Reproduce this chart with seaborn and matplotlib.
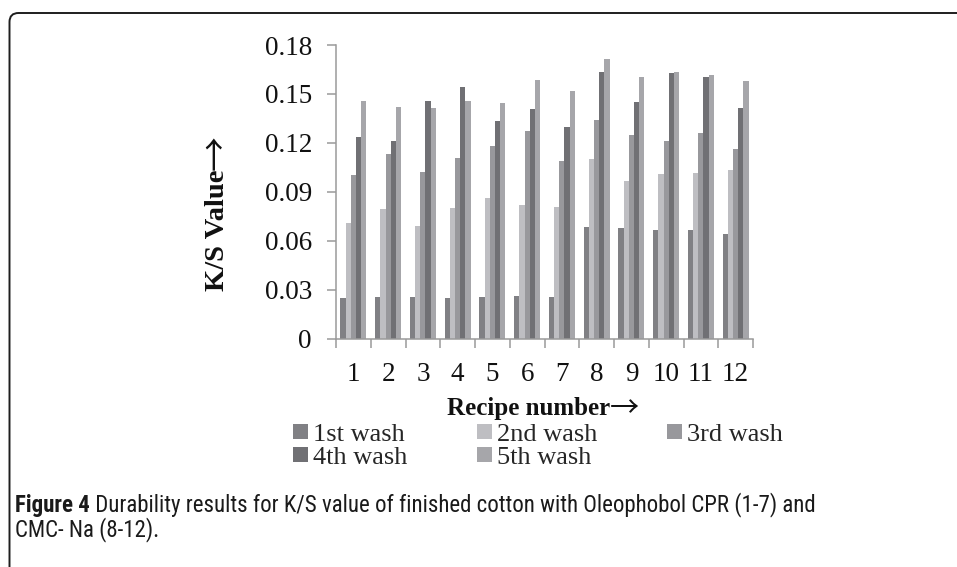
import numpy as np
import pandas as pd
import matplotlib
matplotlib.use("Agg")
import matplotlib.pyplot as plt
import seaborn as sns
from matplotlib.patches import FancyBboxPatch
from matplotlib.transforms import IdentityTransform

# ---- data ----
recipes = [str(i) for i in range(1, 13)]
washes = ["1st wash", "2nd wash", "3rd wash", "4th wash", "5th wash"]
wash1 = [0.0247, 0.0257, 0.0257, 0.0247, 0.0257, 0.0263, 0.0255, 0.0685, 0.0677, 0.0664, 0.0666, 0.0638]
wash2 = [0.0711, 0.0794, 0.0693, 0.0800, 0.0861, 0.0818, 0.0804, 0.1098, 0.0966, 0.1008, 0.1017, 0.1033]
wash3 = [0.1000, 0.1129, 0.1021, 0.1110, 0.1180, 0.1270, 0.1090, 0.1340, 0.1248, 0.1211, 0.1262, 0.1160]
wash4 = [0.1233, 0.1211, 0.1457, 0.1540, 0.1334, 0.1408, 0.1297, 0.1637, 0.1453, 0.1631, 0.1606, 0.1414]
wash5 = [0.1455, 0.1422, 0.1412, 0.1457, 0.1442, 0.1584, 0.1518, 0.1717, 0.1606, 0.1635, 0.1618, 0.1580]
yticks = [0, 0.03, 0.06, 0.09, 0.12, 0.15, 0.18]
ytick_labels = ["0", "0.03", "0.06", "0.09", "0.12", "0.15", "0.18"]
colors = ["#808084", "#bebec2", "#98989c", "#707074", "#a6a6aa"]

df = pd.DataFrame({
    "recipe": recipes * 5,
    "wash": np.repeat(washes, len(recipes)),
    "value": wash1 + wash2 + wash3 + wash4 + wash5,
})

sns.set_theme(style="white")
plt.rcParams["font.family"] = ["Liberation Serif", "DejaVu Serif"]

W, H = 957, 567
fig = plt.figure(figsize=(W / 100, H / 100), dpi=100)
x0, x1, ytop, ybot = 336, 753, 45, 338.5
ax = fig.add_axes([x0 / W, 1 - ybot / H, (x1 - x0) / W, (ybot - ytop) / H])

sns.barplot(data=df, x="recipe", y="value", hue="wash", order=recipes,
            hue_order=washes, palette=colors, width=0.75, saturation=1,
            linewidth=0, errorbar=None, ax=ax)

gray = "#9a9a9a"
ink = "#111111"
ax.set_ylim(0, 0.18)
ax.set_xlim(-0.5, 11.5)
ax.set_yticks(yticks)
ax.set_yticklabels(ytick_labels)
ax.set_xticks(range(len(recipes)))
ax.set_xticklabels(recipes)
ax.set_xticks(np.arange(-0.5, len(recipes), 1), minor=True)
ax.tick_params(axis="y", left=True, length=6.3, width=1.1, color=gray,
               pad=11, labelsize=19.5, labelcolor=ink)
ax.tick_params(axis="x", which="major", bottom=True, length=0, pad=17,
               labelsize=19.5, labelcolor=ink)
ax.tick_params(axis="x", which="minor", bottom=True, length=6.3, width=1.1, color=gray)
for s in ["top", "right"]:
    ax.spines[s].set_visible(False)
for s in ["left", "bottom"]:
    ax.spines[s].set_color(gray)
    ax.spines[s].set_linewidth(1.1)
ax.set_xlabel("")
ax.set_ylabel("")
ax.grid(False)

handles, labels = ax.get_legend_handles_labels()
if ax.get_legend() is not None:
    ax.get_legend().remove()
order = [0, 3, 1, 4, 2]
fig.legend([handles[i] for i in order], [labels[i] for i in order],
           loc="upper left", bbox_to_anchor=(293 / W, 1 - 424 / H),
           ncol=3, frameon=False, fontsize=19, borderpad=0, borderaxespad=0,
           handlelength=0.55, handleheight=0.5, handletextpad=0.2,
           columnspacing=2.65, labelspacing=0.02)

arrow_font = ["Noto Sans CJK SC", "DejaVu Sans"]
# y label
ty = fig.text(217 / W, 1 - 291 / H, "K/S Value", rotation=90, ha="center",
              va="bottom", fontsize=20.5, fontweight="bold", color=ink)
ax.annotate("\u2192", xy=(0.5, 1), xycoords=ty, rotation=90, ha="center",
            va="bottom", fontsize=25, family=arrow_font, color=ink,
            annotation_clip=False)
# x label
tx = fig.text(447 / W, 1 - 409 / H, "Recipe number", ha="left", va="center",
              fontsize=18, fontweight="bold", color=ink)
ax.annotate("\u2192", xy=(1, 0.5), xycoords=tx, ha="left", va="center",
            fontsize=21, family=arrow_font, color=ink, annotation_clip=False)

cap_font = ["Liberation Sans Narrow", "Roboto Condensed", "Roboto"]
cap_color = "#1a1a1a"
t1 = fig.text(15 / W, 1 - 517 / H, "Figure 4", ha="left", va="bottom",
              fontsize=16.5, fontweight="bold", family=cap_font, color=cap_color)
ax.annotate(" Durability results for K/S value of finished cotton with Oleophobol CPR (1-7) and",
            xy=(1, 0), xycoords=t1, ha="left", va="bottom", fontsize=16.5,
            family=cap_font, color=cap_color, annotation_clip=False)
fig.text(15 / W, 1 - 542 / H, "CMC- Na (8-12).", ha="left", va="bottom",
         fontsize=16.5, family=cap_font, color=cap_color)

frame = FancyBboxPatch((9.5, -30), 1200, H - 13 + 30,
                       boxstyle="round,pad=0,rounding_size=9",
                       transform=IdentityTransform(), fill=False,
                       edgecolor="#1e1e1e", linewidth=1.4)
fig.add_artist(frame)

fig.savefig("out.png", dpi=100)
